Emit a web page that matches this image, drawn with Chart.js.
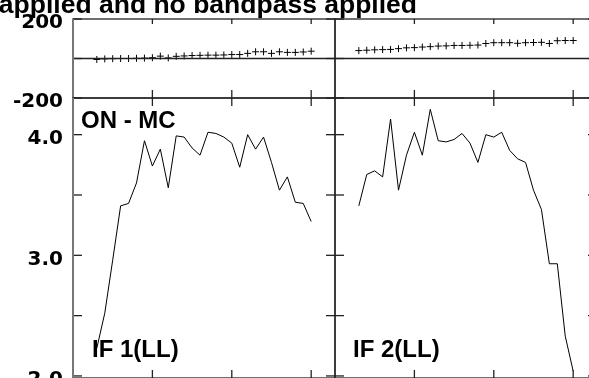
<!DOCTYPE html>
<html>
<head>
<meta charset="utf-8">
<script src="https://cdn.jsdelivr.net/npm/chart.js@4.4.0/dist/chart.umd.min.js"></script>
<style>
    html, body { margin: 0; padding: 0; background: #fff; }
    #wrap { position: relative; width: 589px; height: 378px; overflow: hidden; background: #fff; }
    canvas { position: absolute; }
    .lbl {
        position: absolute;
        font-family: "Liberation Sans", Arial, sans-serif;
        font-weight: bold;
        white-space: nowrap;
        color: #000;
        line-height: 1;
    }
</style>
</head>
<body>
<div id="wrap">
    <canvas id="c-tl" width="341" height="112" style="left:0;top:0"></canvas>
    <canvas id="c-tr" width="272" height="112" style="left:329px;top:0"></canvas>
    <canvas id="c-bl" width="341" height="292" style="left:0;top:86px"></canvas>
    <canvas id="c-br" width="272" height="292" style="left:329px;top:86px"></canvas>
    <div class="lbl" style="right:172px;top:-9px;font-size:26.5px">applied and no bandpass applied</div>
    <div class="lbl" style="left:81px;top:108px;font-size:24px">ON - MC</div>
    <div class="lbl" style="left:92px;top:337px;font-size:24px">IF 1(LL)</div>
    <div class="lbl" style="left:353px;top:337px;font-size:24px">IF 2(LL)</div>
</div>
<script>
// channels along x, same for both IFs
const channels = [3, 4, 5, 6, 7, 8, 9, 10, 11, 12, 13, 14, 15, 16, 17, 18, 19, 20, 21, 22, 23, 24, 25, 26, 27, 28, 29, 30];

// top row: phase (deg)
const phaseIf1 = [-5, -2, -1, 0, 0, 1, 2, 4, 12, 3, 11, 13, 15, 16, 17, 17, 18, 20, 20, 26, 34, 34, 26, 34, 31, 31, 33, 37];
const phaseIf2 = [40, 42, 44, 45, 46, 50, 54, 55, 58, 60, 63, 64, 66, 66, 67, 68, 76, 80, 80, 80, 77, 80, 81, 82, 76, 90, 91, 91];

// bottom row: amplitude
const ampIf1 = [2.23, 2.52, 2.96, 3.41, 3.43, 3.60, 3.95, 3.74, 3.88, 3.56, 3.99, 3.98, 3.89, 3.83, 4.02, 4.01, 3.98, 3.93, 3.73, 4.00, 3.88, 3.98, 3.77, 3.54, 3.65, 3.44, 3.43, 3.28];
const ampIf2 = [3.41, 3.67, 3.70, 3.65, 4.13, 3.54, 3.83, 4.02, 3.83, 4.21, 3.95, 3.94, 3.96, 4.01, 3.93, 3.77, 4.00, 3.98, 4.02, 3.87, 3.80, 3.77, 3.54, 3.38, 2.93, 2.93, 2.33, 2.04];

const xTicks = [10, 20, 30];
const phaseTicks = [-200, 0, 200];
const ampTicks = [2.0, 2.5, 3.0, 3.5, 4.0];

const tickFont = { family: '"DejaVu Sans", sans-serif', size: 20, weight: 'bold' };

// frame with inward ticks, like the original plot package draws it
const framePlugin = {
    id: 'frame',
    afterDatasetsDraw(chart, args, opts) {
        const { ctx, chartArea: a } = chart;
        const x = chart.scales.x;
        const y = chart.scales.y;
        const seg = (x1, y1, x2, y2) => {
            ctx.beginPath();
            ctx.moveTo(x1, y1);
            ctx.lineTo(x2, y2);
            ctx.stroke();
        };
        ctx.save();
        ctx.strokeStyle = '#222';
        ctx.lineWidth = 1.3;
        ctx.strokeRect(a.left, a.top, a.right - a.left, a.bottom - a.top);
        xTicks.forEach((v) => {
            const px = x.getPixelForValue(v);
            seg(px, a.top, px, a.top + opts.topTick);
            seg(px, a.bottom, px, a.bottom - 8);
        });
        opts.yTicks.forEach((v) => {
            const py = y.getPixelForValue(v);
            seg(a.left, py, a.left + 9, py);
            seg(a.right, py, a.right - 9, py);
        });
        if (opts.zero) {
            const py = y.getPixelForValue(0);
            seg(a.left, py, a.right, py);
        }
        if (opts.leftAxis) {
            ctx.strokeStyle = '#777';
            ctx.lineWidth = 2;
            seg(a.left, a.top, a.left, a.bottom);
        }
        ctx.restore();
    }
};

function makePanel(id, values, row, side) {
    const isTop = row === 'top';
    const isLeft = side === 'left';
    const points = channels.map((c, i) => ({ x: c, y: values[i] }));

    const yScale = isTop
        ? { min: -200, max: 200, ticks: { stepSize: 200, callback: (v) => (v === 0 ? '' : v) } }
        : { min: 1.983, max: 4.304, ticks: { stepSize: 0.5, callback: (v) => (Math.abs(v - Math.round(v)) < 1e-6 ? v.toFixed(1) : '') } };
    yScale.display = isLeft;
    yScale.ticks.includeBounds = false;
    yScale.ticks.font = tickFont;
    yScale.ticks.color = '#000';
    yScale.ticks.padding = 10;
    yScale.ticks.labelOffset = 4;
    yScale.grid = { display: false, drawTicks: false };
    yScale.border = { display: false };
    if (isLeft) {
        // fixed label column, and no extra room for half-labels at the ends
        yScale.afterFit = (scale) => {
            scale.width = 73;
            scale.paddingTop = 0;
            scale.paddingBottom = 0;
        };
    }

    new Chart(document.getElementById(id), {
        type: 'line',
        data: {
            datasets: [{
                data: points,
                borderColor: '#000',
                backgroundColor: '#000',
                borderWidth: 1,
                showLine: !isTop,
                pointStyle: 'cross',
                pointRadius: isTop ? 3.5 : 0,
                pointBorderWidth: 1,
                tension: 0,
                clip: false
            }]
        },
        options: {
            responsive: false,
            devicePixelRatio: 1,
            animation: false,
            layout: {
                autoPadding: false,
                padding: {
                    top: isTop ? 19 : 12,
                    bottom: isTop ? 14 : 0,
                    left: isLeft ? 0 : 6,
                    right: isLeft ? 6 : 4
                }
            },
            plugins: {
                legend: { display: false },
                tooltip: { enabled: false },
                frame: {
                    yTicks: isTop ? phaseTicks : ampTicks,
                    topTick: isTop ? 5 : 8,
                    zero: isTop,
                    leftAxis: isLeft
                }
            },
            scales: {
                x: { type: 'linear', min: 0, max: 33, display: false },
                y: yScale
            }
        },
        plugins: [framePlugin]
    });
}

makePanel('c-tl', phaseIf1, 'top', 'left');
makePanel('c-tr', phaseIf2, 'top', 'right');
makePanel('c-bl', ampIf1, 'bottom', 'left');
makePanel('c-br', ampIf2, 'bottom', 'right');
</script>
</body>
</html>
